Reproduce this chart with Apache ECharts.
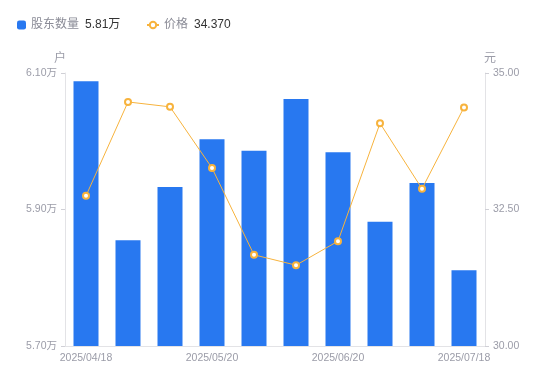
<!DOCTYPE html>
<html><head><meta charset="utf-8">
<script src="https://cdn.jsdelivr.net/npm/echarts@6/dist/echarts.min.js"></script>
<style>html,body{margin:0;padding:0;background:#fff}#c{width:550px;height:381px}</style>
</head><body><div id="c"></div>
<script>
const categories = ['2025/04/18','2025/04/30','2025/05/09','2025/05/20','2025/05/30','2025/06/10','2025/06/20','2025/06/30','2025/07/10','2025/07/18'];
const holders = [6.088, 5.855, 5.933, 6.003, 5.986, 6.062, 5.984, 5.882, 5.939, 5.811];
const prices = [32.75, 34.47, 34.38, 33.26, 31.67, 31.48, 31.92, 34.08, 32.88, 34.37];
const holderLatest = '5.81万';
const priceLatest = '34.370';

const chart = echarts.init(document.getElementById('c'));
const labelColor = '#9b9ca8';
const ff = '"Liberation Sans", Arial, "Noto Sans CJK SC", sans-serif';
const legendText = {
  fontSize: 12, fontFamily: ff,
  rich: {
    n: {color: '#8a8b96', fontSize: 12, fontFamily: ff},
    v: {color: '#333', fontSize: 12, fontFamily: ff, padding: [0,0,0,6]}
  }
};
const fmt = function(name){
  return '{n|' + name + '}{v|' + (name === '股东数量' ? holderLatest : priceLatest) + '}';
};
chart.setOption({
  animation: false,
  textStyle: {fontFamily: ff},
  legend: [
    {
      left: 12, top: 14, itemWidth: 9, itemHeight: 9, itemGap: 5,
      textStyle: legendText, formatter: fmt,
      data: [{name: '股东数量', icon: 'roundRect'}]
    },
    {
      left: 141, top: 14, itemWidth: 12, itemHeight: 8, itemGap: 5,
      textStyle: legendText, formatter: fmt,
      data: [{name: '价格'}]
    }
  ],
  grid: {left: 65, right: 65, top: 73, bottom: 35},
  xAxis: {
    type: 'category', data: categories,
    axisLine: {lineStyle: {color: '#e3e3e6'}},
    axisTick: {show: false},
    axisLabel: {color: labelColor, fontSize: 10.5, interval: 2, margin: 7}
  },
  yAxis: [
    {
      type: 'value', name: '户', min: 5.7, max: 6.1, interval: 0.2,
      nameTextStyle: {color: labelColor, fontSize: 12, padding: [0, 0, 0, -10]},
      nameGap: 8,
      axisLine: {show: true, lineStyle: {color: '#e3e3e6'}},
      axisTick: {show: true, length: 4, lineStyle: {color: '#d0d0d6'}},
      splitLine: {show: false},
      axisLabel: {color: labelColor, fontSize: 10.5, margin: 8, formatter: v => v.toFixed(2) + '万'}
    },
    {
      type: 'value', name: '元', min: 30, max: 35, interval: 2.5,
      nameTextStyle: {color: labelColor, fontSize: 12, padding: [0, -10, 0, 0]},
      nameGap: 8,
      axisLine: {show: true, lineStyle: {color: '#e3e3e6'}},
      axisTick: {show: true, length: 4, lineStyle: {color: '#d0d0d6'}},
      splitLine: {show: false},
      axisLabel: {color: labelColor, fontSize: 10.5, margin: 8, formatter: v => v.toFixed(2)}
    }
  ],
  series: [
    {
      name: '股东数量', type: 'bar', data: holders, yAxisIndex: 0,
      barWidth: 25,
      itemStyle: {color: '#2878f0'}
    },
    {
      name: '价格', type: 'line', data: prices, yAxisIndex: 1,
      symbol: 'circle', symbolSize: 6,
      lineStyle: {color: '#f7b33d', width: 1},
      itemStyle: {color: '#fff', borderColor: '#f7b33d', borderWidth: 2}
    }
  ]
});
</script></body></html>
